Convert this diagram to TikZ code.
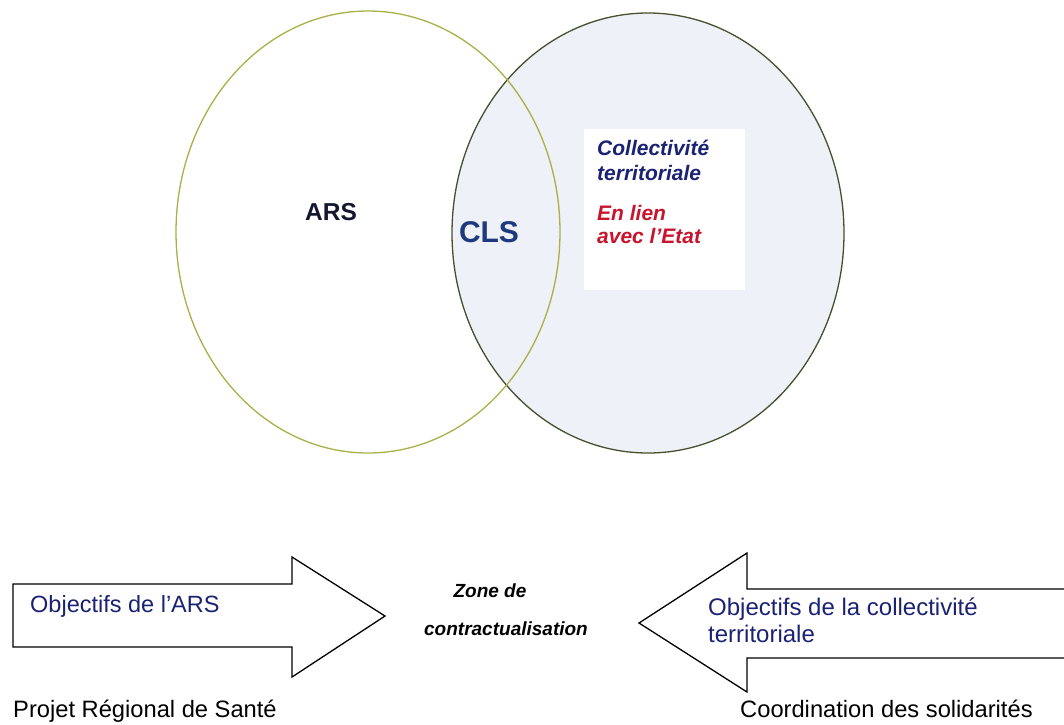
\documentclass[tikz,border=0pt]{standalone}
\usepackage{fontspec}
\setmainfont{Liberation Sans}
\definecolor{arsgreen}{HTML}{A8B046}
\definecolor{ctgreen}{HTML}{46502C}
\definecolor{ctfill}{HTML}{EEF1F7}
\definecolor{navy}{HTML}{1B2173}
\definecolor{clsblue}{HTML}{1E3A7E}
\definecolor{etatred}{HTML}{C8142C}
\definecolor{arsdark}{HTML}{14182E}

\begin{document}
\begin{tikzpicture}[x=1pt,y=-1pt,
  txt/.style={inner sep=0pt,anchor=base west},
  ctxt/.style={inner sep=0pt,anchor=base}]
\useasboundingbox (0,0) rectangle (1064,724);

\coordinate (L) at (368,232); % centre of ARS
\coordinate (R) at (648,233); % centre of collectivite
\coordinate (B1) at (584,129); % white box top left
\coordinate (B2) at (745,290); % white box bottom right

\coordinate (A1) at (13,584); % left arrow shaft top
\coordinate (A2) at (292,584); % left arrow head base top
\coordinate (A3) at (292,557); % left arrow barb top
\coordinate (A4) at (385,616); % left arrow tip
\coordinate (A5) at (292,677); % left arrow barb bottom
\coordinate (A6) at (292,647); % left arrow head base bottom
\coordinate (A7) at (13,647); % left arrow shaft bottom

\coordinate (C1) at (1066,589); % right arrow shaft top (runs off the page)
\coordinate (C2) at (747,589); % right arrow head base top
\coordinate (C3) at (747,553); % right arrow barb top
\coordinate (C4) at (639,623); % right arrow tip
\coordinate (C5) at (747,692); % right arrow barb bottom
\coordinate (C6) at (747,658); % right arrow head base bottom
\coordinate (C7) at (1066,658); % right arrow shaft bottom

%the two ellipses, collectivite one is shaded
\fill[ctfill] (R) ellipse (196pt and 220pt);
\fill[white] (B1) rectangle (B2);
\draw[ctgreen, line width=1.3pt] (R) ellipse (196pt and 220pt);
\draw[arsgreen, line width=1.3pt] (L) ellipse (192pt and 221pt);

%labels in the ellipses
\node[ctxt, arsdark, font=\fontsize{24.5}{29}\selectfont\bfseries] (ars) at (331,220.5) {ARS};
\node[ctxt, clsblue, font=\fontsize{30}{36}\selectfont\bfseries] (cls) at (489,242) {CLS};
\node[txt, navy, font=\fontsize{21}{25}\selectfont\bfseries\itshape] (coll) at (597,155) {Collectivité};
\node[txt, navy, font=\fontsize{21}{25}\selectfont\bfseries\itshape] (terr) at (597,180) {territoriale};
\node[txt, etatred, font=\fontsize{21}{25}\selectfont\bfseries\itshape] (lien) at (597,220) {En lien};
\node[txt, etatred, font=\fontsize{21}{25}\selectfont\bfseries\itshape] (etat) at (597,243) {avec l'Etat};

%block arrows
\draw[black, line width=1.3pt, line join=miter] (A1) -- (A2) -- (A3) -- (A4) -- (A5) -- (A6) -- (A7) -- cycle;
\draw[black, line width=1.3pt, line join=miter] (C1) -- (C2) -- (C3) -- (C4) -- (C5) -- (C6) -- (C7);

%texts of the lower part
\node[txt, navy, font=\fontsize{23.5}{28}\selectfont] (objars) at (30,612) {Objectifs de l'ARS};
\node[txt, navy, font=\fontsize{24}{28}\selectfont] (objct) at (708,615) {Objectifs de la collectivité};
\node[txt, navy, font=\fontsize{24}{28}\selectfont] (objterr) at (708,642) {territoriale};
\node[ctxt, font=\fontsize{19}{23}\selectfont\bfseries\itshape] (zone) at (490,597) {Zone de};
\node[ctxt, font=\fontsize{19}{23}\selectfont\bfseries\itshape] (contr) at (506,635) {contractualisation};
\node[txt, font=\fontsize{23.7}{28}\selectfont] (prs) at (13,717) {Projet Régional de Santé};
\node[txt, font=\fontsize{23.7}{28}\selectfont] (coord) at (740,717) {Coordination des solidarités};
\end{tikzpicture}
\end{document}
